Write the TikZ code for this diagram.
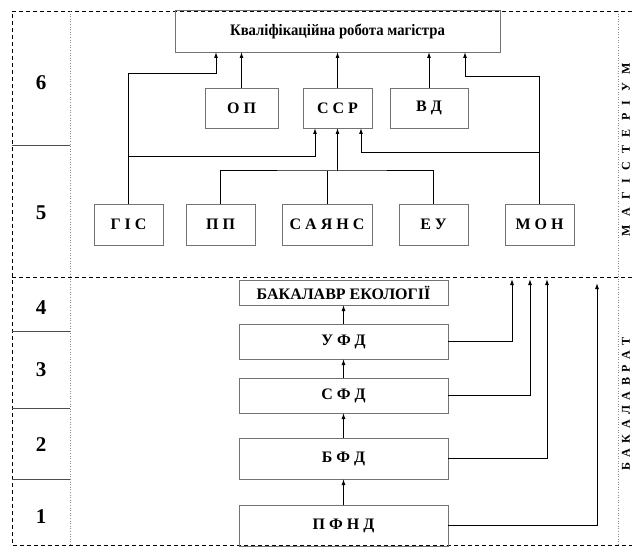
\documentclass[tikz,border=0pt]{standalone}
\usepackage{fontspec}
\setmainfont{Liberation Serif}
\usetikzlibrary{arrows.meta}

\begin{document}
\begin{tikzpicture}[x=1pt,y=-1pt,
  box/.style={draw=black!55, line width=0.8pt, inner sep=0pt, outer sep=0pt,
    font=\bfseries\fontsize{16}{18}\selectfont},
  arr/.style={-{Latex[length=6pt,width=4pt]}, line width=1pt},
  ln/.style={line width=1pt},
  frame/.style={dash pattern=on 4pt off 3pt, line width=0.8pt},
  guide/.style={black!45, dotted, line width=0.6pt},
  sep/.style={black!70, line width=0.6pt},
  num/.style={font=\bfseries\fontsize{21}{23}\selectfont},
  side/.style={rotate=90, inner sep=0pt, font=\bfseries\fontsize{12}{14}\selectfont}]
\useasboundingbox (0,0) rectangle (632,548);

\draw[frame] (632,11) -- (12,11) -- (12,545) -- (632,545);
\draw[frame] (12,277) -- (632,277);
\draw[guide] (70,11) -- (70,545);
\draw[guide] (618,11) -- (618,545);
\foreach \y in {145,331,408,479}
    \draw[sep] (12,\y) -- (70,\y);

\foreach \k/\y in {6/83, 5/213, 4/308, 3/370, 2/445, 1/517}
    \node[num] (n\k) at (41,\y) {\k};

\node[side] (mag) at (626,150) {\addfontfeature{LetterSpace=45}М А Г І С Т Е Р І У М};
\node[side] (bak) at (626,404) {\addfontfeature{LetterSpace=21}Б А К А Л А В Р А Т};

\node[box, minimum width=325pt, minimum height=42pt] (title) at (337.5,31) {\addfontfeature{FakeStretch=0.92}Кваліфікаційна робота магістра};
\node[box, minimum width=73pt, minimum height=40pt] (op) at (241.5,108) {О П};
\node[box, minimum width=69pt, minimum height=40pt] (ssr) at (337.5,108) {С С Р};
\node[box, minimum width=78pt, minimum height=40pt] (vd) at (429,108) {В Д};
\node[box, minimum width=69pt, minimum height=41pt] (gis) at (128.5,224.5) {Г І С};
\node[box, minimum width=69pt, minimum height=41pt] (pp) at (220.5,224.5) {П П};
\node[box, minimum width=90pt, minimum height=41pt] (sayans) at (327,224.5) {С А Я Н С};
\node[box, minimum width=69pt, minimum height=41pt] (eu) at (433.5,224.5) {Е У};
\node[box, minimum width=69pt, minimum height=41pt] (mon) at (539.5,224.5) {М О Н};

\coordinate (t1) at (216,52);
\coordinate (k1) at (216,74);
\coordinate (t5) at (465,52);
\coordinate (k5) at (465,77);
\coordinate (j1) at (315,157);
\coordinate (j5) at (361,153);
\coordinate (j2) at (337.5,171);

\draw[arr] (gis.north) |- (k1) -- (t1);
\draw[arr] (gis.north |- j1) -- (j1) -- (ssr.south -| j1);
\draw[arr] (op.north) -- (op.north |- title.south);
\draw[arr] (ssr.north) -- (ssr.north |- title.south);
\draw[arr] (vd.north) -- (vd.north |- title.south);
\draw[arr] (mon.north) |- (k5) -- (t5);
\draw[arr] (mon.north |- j5) -- (j5) -- (ssr.south -| j5);
\draw[ln] (pp.north) |- (j2) -| (eu.north);
\draw[ln] (sayans.north) -- (sayans.north |- j2);
\draw[arr] (j2) -- (ssr.south);

\node[box, minimum width=209pt, minimum height=25pt] (bakec) at (343.5,292.5) {БАКАЛАВР ЕКОЛОГІЇ};
\node[box, minimum width=209pt, minimum height=35pt] (ufd) at (343.5,341.5) {У Ф Д};
\node[box, minimum width=209pt, minimum height=35pt] (sfd) at (343.5,395.5) {С Ф Д};
\node[box, minimum width=209pt, minimum height=41pt] (bfd) at (343.5,458.5) {Б Ф Д};
\node[box, minimum width=209pt, minimum height=41pt] (pfnd) at (343.5,525.5) {П Ф Н Д};

\draw[arr] (ufd.north) -- (bakec.south);
\draw[arr] (sfd.north) -- (ufd.south);
\draw[arr] (bfd.north) -- (sfd.south);
\draw[arr] (pfnd.north) -- (bfd.south);

\coordinate (e1) at (512,279);
\coordinate (e2) at (530,279);
\coordinate (e3) at (547,279);
\coordinate (e4) at (597,283);
\foreach \n/\e in {ufd/e1, sfd/e2, bfd/e3, pfnd/e4}
    \draw[arr] (\n.east) -| (\e);
\end{tikzpicture}
\end{document}
